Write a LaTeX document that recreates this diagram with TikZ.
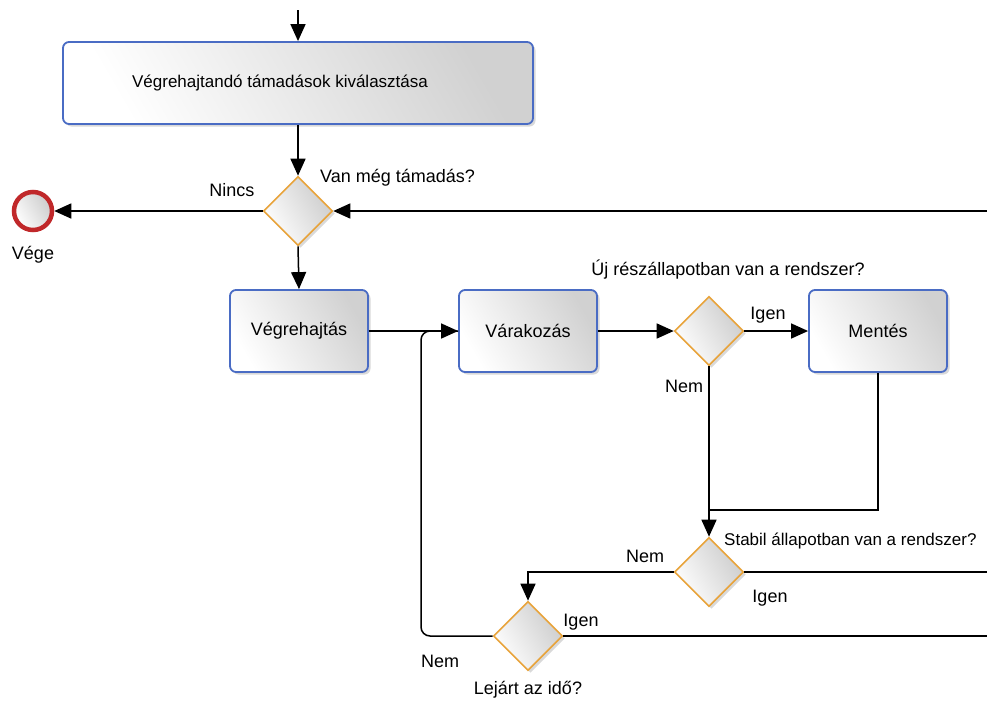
\documentclass[tikz,border=0pt]{standalone}
\usepackage{fontspec}
\setmainfont{Liberation Sans}
\usetikzlibrary{shapes.geometric,arrows.meta,shadows}
\definecolor{boxblue}{HTML}{4A6CC4}
\definecolor{dorange}{HTML}{E8A33A}
\definecolor{endred}{HTML}{C0282A}
\tikzset{
  task/.style={draw=boxblue, line width=1.8pt, rounded corners=6pt,
    left color=white, right color=black!18, shading angle=120,
    drop shadow={shadow xshift=2.5pt, shadow yshift=-2.5pt, opacity=0.3},
    font=\fontsize{18}{21}\selectfont, inner sep=0pt},
  gate/.style={diamond, aspect=1, draw=dorange, line width=1.6pt,
    minimum width=69pt, minimum height=69pt, inner sep=0pt,
    left color=white, right color=black!20, shading angle=120,
    drop shadow={shadow xshift=2.5pt, shadow yshift=-2.5pt, opacity=0.3}},
  endev/.style={circle, draw=endred, line width=4.5pt, minimum size=38pt, inner sep=0pt,
    left color=white, right color=black!20, shading angle=120},
  lbl/.style={font=\fontsize{18}{21}\selectfont, inner sep=0pt},
  flow/.style={line width=1.5pt, -{Triangle[length=17pt,width=15pt]}},
  plain/.style={line width=1.5pt},
}
\begin{document}
\begin{tikzpicture}[x=1pt,y=-1pt]
\useasboundingbox (0,0) rectangle (987,702);
\clip (0,0) rectangle (987,702);
% nodes
\node[task, minimum width=470pt, minimum height=82pt, font=\fontsize{17}{20}\selectfont] (sel) at (298,83) {Végrehajtandó támadások kiválasztása\hspace*{36pt}};
\node[gate] (d1) at (298,211) {};
\node[endev] (end) at (33,211) {};
\node[task, minimum width=138pt, minimum height=82pt] (exec) at (299,331) {Végrehajtás};
\node[task, minimum width=138pt, minimum height=82pt] (wait) at (528,331) {Várakozás};
\node[gate] (d2) at (709,331) {};
\node[task, minimum width=138pt, minimum height=82pt] (save) at (878,331) {Mentés};
\node[gate] (d3) at (709,572) {};
\node[gate] (d4) at (528,636) {};
\coordinate (top) at (298,10);
\coordinate (r1) at (995,211);
\coordinate (r2) at (995,572);
\coordinate (r3) at (995,636);
\coordinate (join) at (709,510);
% labels
\node[lbl] (lvege) at (33,255) {Vége};
\node[lbl] (lnincs) at (232,190) {Nincs};
\node[lbl, anchor=west] (lvan) at (320,178) {Van még támadás?};
\node[lbl] (luj) at (728,270) {Új részállapotban van a rendszer?};
\node[lbl] (ligen1) at (768,315) {Igen};
\node[lbl] (lnem1) at (684,386) {Nem};
\node[lbl, anchor=west, font=\fontsize{17}{20}\selectfont] (lstab) at (724,541) {Stabil állapotban van a rendszer?};
\node[lbl] (lnem2) at (645,556) {Nem};
\node[lbl] (ligen2) at (770,598) {Igen};
\node[lbl] (ligen3) at (581,622) {Igen};
\node[lbl] (lnem3) at (440,661) {Nem};
\node[lbl] (lido) at (528,690) {Lejárt az idő?};
% connectors
\draw[flow] (top) -- (sel.north);
\draw[flow] (sel.south) -- (d1.north);
\draw[flow] (d1.west) -- (end.east);
\draw[flow] (r1) -- (d1.east);
\draw[flow] (d1.south) -- (exec.north);
\draw[flow] (exec.east) -- (wait.west);
\draw[flow] (wait.east) -- (d2.west);
\draw[flow] (d2.east) -- (save.west);
\draw[plain] (save.south) |- (join);
\draw[flow] (d2.south) -- (d3.north);
\draw[flow] (d3.west) -| (d4.north);
\draw[plain] (d3.east) -- (r2);
\draw[plain] (d4.east) -- (r3);
\draw[plain, rounded corners=9pt] (d4.west) -- (421,636) -- (421,331) -- (wait.west);
\end{tikzpicture}
\end{document}
